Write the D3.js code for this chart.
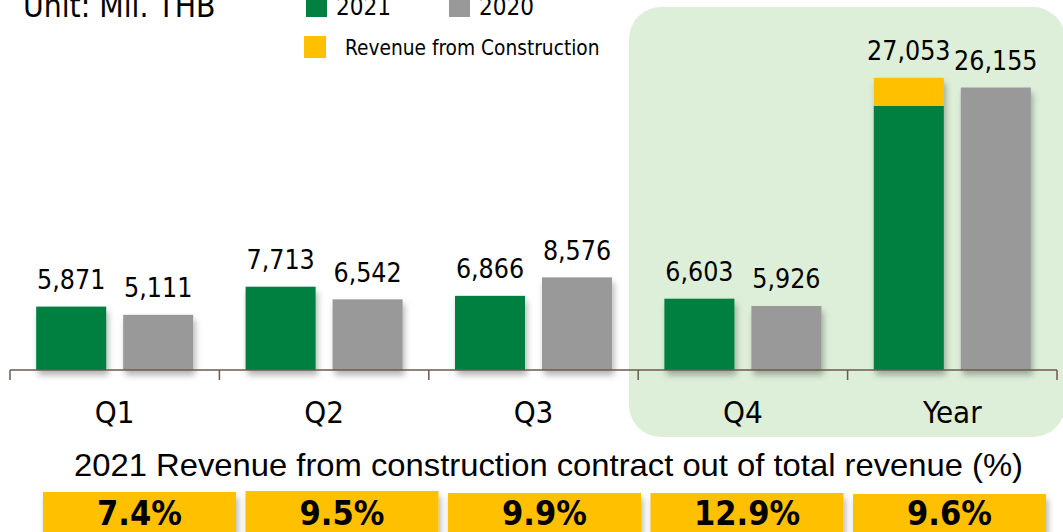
<!DOCTYPE html>
<html>
<head>
<meta charset="utf-8">
<script src="https://cdn.jsdelivr.net/npm/d3@7"></script>
<style>
  html, body { margin: 0; padding: 0; background: #ffffff; }
  svg { display: block; }
  .tah { font-family: 'DejaVu Sans Condensed', 'DejaVu Sans', sans-serif; font-stretch: condensed; }
</style>
</head>
<body>
<svg id="chart" width="1063" height="532"></svg>
<script>
// ---- data ----
const categories = ["Q1", "Q2", "Q3", "Q4", "Year"];
const series = ["2021", "2020"];
const revenue2021 = [5871, 7713, 6866, 6603, 27053];
const revenue2020 = [5111, 6542, 8576, 5926, 26155];
const construction2021 = [null, null, null, null, 2597];
const constructionShareLabels = ["7.4%", "9.5%", "9.9%", "12.9%", "9.6%"];
const unitLabel = "Unit: Mil. THB";
const legendConstruction = "Revenue from Construction";
const shareTitle = "2021 Revenue from construction contract out of total revenue (%)";

// ---- style ----
const GREEN = "#03803F", GRAY = "#999999", YELLOW = "#FFC000", PANEL = "#DEEFD9";
const fmt = d3.format(",");

const svg = d3.select("#chart");
const defs = svg.append("defs");
const sh = defs.append("filter").attr("id", "shadow")
  .attr("x", "-20%").attr("y", "-20%").attr("width", "150%").attr("height", "150%");
sh.append("feDropShadow").attr("dx", 2).attr("dy", 5).attr("stdDeviation", 3)
  .attr("flood-color", "#000").attr("flood-opacity", 0.3);

// highlight panel
svg.append("rect").attr("x", 629).attr("y", 7).attr("width", 436).attr("height", 430)
  .attr("rx", 32).attr("ry", 32).attr("fill", PANEL);

// scales
const x = d3.scaleBand().domain(categories).range([10, 1057]).paddingInner(0).paddingOuter(0);
const xs = d3.scaleBand().domain(series).range([0, x.bandwidth()]).paddingInner(0.195).paddingOuter(0.301);
const y = d3.scaleLinear().domain([0, 30000]).range([370, 46]);

const rows = categories.map((c, i) => ({
  cat: c, v2021: revenue2021[i], v2020: revenue2020[i], cons: construction2021[i]
}));

// bars
const g = svg.append("g");
const bars = [];
rows.forEach(r => {
  bars.push({cat: r.cat, s: "2021", v: r.v2021, cons: r.cons});
  bars.push({cat: r.cat, s: "2020", v: r.v2020, cons: null});
});

g.selectAll("g.bar").data(bars).join("g").attr("class", "bar")
  .attr("filter", "url(#shadow)")
  .each(function(d) {
    const sel = d3.select(this);
    const bx = x(d.cat) + xs(d.s);
    const w = xs.bandwidth();
    const base = d.cons ? d.v - d.cons : d.v;
    sel.append("rect").attr("x", bx).attr("y", y(base)).attr("width", w)
      .attr("height", y(0) - y(base)).attr("fill", d.s === "2021" ? GREEN : GRAY);
    if (d.cons) {
      sel.append("rect").attr("x", bx).attr("y", y(d.v)).attr("width", w)
        .attr("height", y(base) - y(d.v)).attr("fill", YELLOW);
    }
  });

// value labels
g.selectAll("text.val").data(bars).join("text").attr("class", "val tah")
  .attr("x", d => x(d.cat) + xs(d.s) + xs.bandwidth() / 2)
  .attr("y", d => y(d.v) - 17.5)
  .attr("text-anchor", "middle").attr("font-size", 26.5).attr("fill", "#000")
  .text(d => fmt(d.v));

// axis
const axisG = svg.append("g").attr("transform", `translate(0,${y(0)})`)
  .call(d3.axisBottom(x).tickSize(0).tickPadding(31));
axisG.select(".domain").remove();
axisG.selectAll("text").attr("class", "tah").attr("font-size", 31).attr("fill", "#000")
  .attr("font-family", null);

const bounds = categories.map(c => x(c)).concat([x.range()[1]]);
svg.append("line").attr("x1", bounds[0]).attr("x2", bounds[bounds.length - 1])
  .attr("y1", y(0)).attr("y2", y(0)).attr("stroke", "#6B5A4E").attr("stroke-width", 1.5);
svg.selectAll("line.tk").data(bounds).join("line").attr("class", "tk")
  .attr("x1", d => d).attr("x2", d => d).attr("y1", y(0)).attr("y2", y(0) + 10)
  .attr("stroke", "#6B5A4E").attr("stroke-width", 1.5);

// unit & legend
svg.append("text").attr("class", "tah").attr("x", 23).attr("y", 17)
  .attr("font-size", 31.5).attr("fill", "#000").text(unitLabel);

const legendItems = [
  {label: series[0], color: GREEN, sx: 306, sy: -4, size: 21, tx: 336, ty: 15, fs: 24},
  {label: series[1], color: GRAY, sx: 449, sy: -4, size: 21, tx: 479, ty: 15, fs: 24},
  {label: legendConstruction, color: YELLOW, sx: 304, sy: 36, size: 22, tx: 345, ty: 55, fs: 20.7}
];
const lg = svg.selectAll("g.lg").data(legendItems).join("g").attr("class", "lg");
lg.append("rect").attr("x", d => d.sx).attr("y", d => d.sy).attr("width", d => d.size)
  .attr("height", d => d.size).attr("fill", d => d.color);
lg.append("text").attr("class", "tah").attr("x", d => d.tx).attr("y", d => d.ty)
  .attr("font-size", d => d.fs).attr("fill", "#000").text(d => d.label);

// share title
svg.append("text").attr("x", 74).attr("y", 476)
  .attr("font-family", "'Liberation Sans', Arial, sans-serif").attr("font-size", 30.5)
  .attr("textLength", 949).attr("lengthAdjust", "spacingAndGlyphs")
  .attr("fill", "#000").text(shareTitle);

// share boxes
const xb = d3.scaleBand().domain(categories).range([43, 1046]).paddingInner(0.047).paddingOuter(0);
const boxTops = [492, 491, 493, 493, 494];
const bg = svg.selectAll("g.box").data(categories).join("g").attr("class", "box");
bg.append("rect").attr("x", d => xb(d)).attr("y", (d, i) => boxTops[i])
  .attr("width", xb.bandwidth()).attr("height", 60).attr("fill", YELLOW)
  .attr("filter", "url(#shadow)");
bg.append("text").attr("class", "tah").attr("x", d => xb(d) + xb.bandwidth() / 2).attr("y", 525)
  .attr("text-anchor", "middle")
  .attr("font-weight", "bold").attr("font-size", 34).attr("fill", "#000")
  .text((d, i) => constructionShareLabels[i]);
</script>
</body>
</html>
